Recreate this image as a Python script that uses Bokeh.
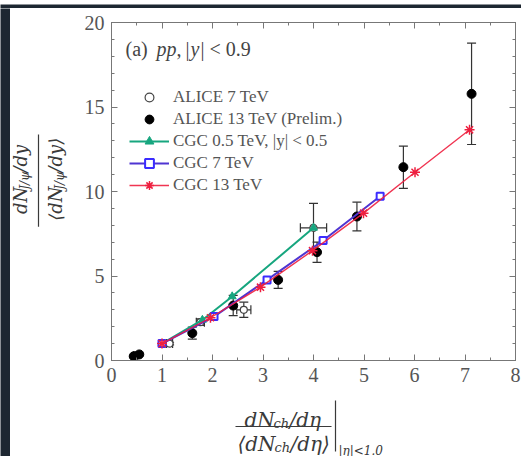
import numpy as np
from bokeh.plotting import figure
from bokeh.models import (ColumnDataSource, Whisker, TeeHead, Label, Legend, LegendItem,
                          LinearAxis, FixedTicker, Range1d)
from bokeh.core.properties import value
from bokeh.layouts import column, row
from bokeh.embed import file_html
from bokeh.resources import INLINE

# ALICE 13 TeV (preliminary): normalised multiplicity vs normalised J/psi yield
a13_x = [0.44, 0.55, 1.60, 2.41, 3.30, 4.07, 4.86, 5.78, 7.13]
a13_y = [0.25, 0.36, 1.62, 3.25, 4.77, 6.41, 8.52, 11.44, 15.78]
a13_yerr = [0.05, 0.06, 0.35, 0.60, 0.50, 0.60, 0.85, 1.25, 3.00]

# ALICE 7 TeV
a7_x = [0.48, 1.15, 1.76, 2.62, 4.00]
a7_y = [0.30, 1.00, 2.27, 3.00, 7.85]
a7_xerr = [0.04, 0.06, 0.08, 0.14, 0.26]
a7_yerr = [0.05, 0.08, 0.20, 0.45, 1.45]

# CGC calculations
cgc05_x = [1.00, 1.80, 2.39, 4.00]
cgc05_y = [1.00, 2.40, 3.79, 7.85]
cgc7_x = [1.00, 2.03, 3.08, 4.19, 5.32]
cgc7_y = [1.00, 2.60, 4.77, 7.10, 9.72]
cgc13_x = [1.00, 1.96, 2.95, 3.98, 4.99, 6.01, 7.09]
cgc13_y = [1.00, 2.53, 4.34, 6.50, 8.72, 11.14, 13.65]

x_ticks = [0, 1, 2, 3, 4, 5, 6, 7, 8]
y_ticks = [0, 5, 10, 15, 20]

GREEN = "#17a67f"
BLUE_LINE = "#4f35d2"
BLUE_MARK = "#3b2cff"
RED = "#ee1f3f"
ERR = "#333333"
AXIS = "#777777"
DARK = "#1d2731"
INK = "#3a3a3a"
TICK_FONT = "Liberation Serif"
MATH_FONT = "DejaVu Serif"

W, H = 521, 456                     # page size
TOP, SIDE = 8, 10                   # dark strips along the top and left edges
SPLIT, LABEL_X = 400, 70            # bottom of the plot row, right edge of the y-label column

# ---------------------------------------------------------------- main plot
p = figure(width=W - LABEL_X, height=SPLIT - TOP, output_backend="svg", toolbar_location=None,
           x_range=Range1d(0, 8), y_range=Range1d(0, 20),
           min_border_left=41, min_border_right=6, min_border_top=14, min_border_bottom=40,
           background_fill_color="white", border_fill_color="white")
p.outline_line_color = AXIS
p.outline_line_width = 1
p.xgrid.grid_line_color = None
p.ygrid.grid_line_color = None

x_ticker = FixedTicker(ticks=x_ticks, minor_ticks=list(np.arange(0, 8.01, 0.5)))
y_ticker = FixedTicker(ticks=y_ticks, minor_ticks=list(range(0, 21)))


def style_axis(ax, labels=True):
    ax.axis_line_color = AXIS
    ax.major_tick_line_color = AXIS
    ax.minor_tick_line_color = AXIS
    ax.major_tick_in = 6
    ax.major_tick_out = 0
    ax.minor_tick_in = 3
    ax.minor_tick_out = 0
    if labels:
        ax.major_label_text_font = TICK_FONT
        ax.major_label_text_font_size = "20px"
        ax.major_label_text_color = "#555555"
        ax.major_label_standoff = 7
    else:
        ax.major_label_text_color = None
        ax.major_label_standoff = 0


p.xaxis.ticker = x_ticker
p.yaxis.ticker = y_ticker
style_axis(p.xaxis[0])
style_axis(p.yaxis[0])
top_ax = LinearAxis(ticker=x_ticker)
right_ax = LinearAxis(ticker=y_ticker)
style_axis(top_ax, labels=False)
style_axis(right_ax, labels=False)
p.add_layout(top_ax, "above")
p.add_layout(right_ax, "right")


def add_err(xs, ys, errs, dim):
    if dim == "height":
        base, centre = xs, ys
    else:
        base, centre = ys, xs
    src = ColumnDataSource(dict(base=base, lower=[c - e for c, e in zip(centre, errs)],
                                upper=[c + e for c, e in zip(centre, errs)]))
    p.add_layout(Whisker(source=src, base="base", lower="lower", upper="upper",
                         dimension=dim, line_color=ERR, line_width=1.2,
                         upper_head=TeeHead(size=9, line_color=ERR, line_width=1.2),
                         lower_head=TeeHead(size=9, line_color=ERR, line_width=1.2)))


add_err(a7_x, a7_y, a7_yerr, "height")
add_err(a7_x, a7_y, a7_xerr, "width")
add_err(a13_x, a13_y, a13_yerr, "height")

r_a7 = p.scatter(a7_x, a7_y, marker="circle", size=7, fill_color="white",
                 line_color="#444444", line_width=1.2)
r_a13 = p.scatter(a13_x, a13_y, marker="circle", size=9, fill_color="black",
                  line_color="black")

l05 = p.line(cgc05_x, cgc05_y, line_color=GREEN, line_width=2)
m05 = p.scatter(cgc05_x, cgc05_y, marker="triangle", size=8, fill_color=GREEN,
                line_color=GREEN)
l7 = p.line(cgc7_x, cgc7_y, line_color=BLUE_LINE, line_width=2)
m7 = p.scatter(cgc7_x, cgc7_y, marker="square", size=7, fill_color="white",
               line_color=BLUE_MARK, line_width=2)
l13 = p.line(cgc13_x, cgc13_y, line_color=RED, line_width=1.4, line_alpha=0.9)
m13 = p.scatter(cgc13_x, cgc13_y, marker="asterisk", size=10, line_color=RED,
                line_width=1.5)

legend = Legend(items=[
    LegendItem(label="ALICE 7 TeV", renderers=[r_a7]),
    LegendItem(label="ALICE 13 TeV (Prelim.)", renderers=[r_a13]),
    LegendItem(label="CGC 0.5 TeV, |y| < 0.5", renderers=[l05, m05]),
    LegendItem(label="CGC 7 TeV", renderers=[l7, m7]),
    LegendItem(label="CGC 13 TeV", renderers=[l13, m13]),
], location=(18, 164))
legend.label_text_font = TICK_FONT
legend.label_text_font_size = "17px"
legend.label_text_color = "#555555"
legend.glyph_width = 40
legend.glyph_height = 22
legend.label_height = 22
legend.spacing = 0
legend.padding = 0
legend.margin = 0
legend.label_standoff = 4
legend.border_line_color = None
legend.background_fill_alpha = 0
p.add_layout(legend)

# panel title, placed in page pixels relative to the frame's bottom-left corner
FX0, FY0 = 111, 360
for txt, px, it in [("(a)", 125, False), ("pp", 156, True), (",", 176, False),
                    ("|", 185, False), ("y", 190, True), ("|", 200, False), ("< 0.9", 209, False)]:
    p.add_layout(Label(x=px - FX0, y=FY0 - 48, x_units="screen", y_units="screen",
                       text=txt, text_font=TICK_FONT, text_font_size="20px",
                       text_font_style="italic" if it else "normal", text_color="#444444",
                       text_align="left", text_baseline="alphabetic"))


# ---------------------------------------------------------------- label panels
def panel(page_left, page_right, page_top, page_bottom, fill="white"):
    # data x equals page x, data y equals H - page y
    f = figure(width=page_right - page_left, height=page_bottom - page_top,
               output_backend="svg", toolbar_location=None,
               x_range=Range1d(page_left, page_right),
               y_range=Range1d(H - page_bottom, H - page_top),
               x_axis_location=None, y_axis_location=None,
               min_border_left=0, min_border_right=0, min_border_top=0, min_border_bottom=0,
               background_fill_color=fill, border_fill_color=fill)
    f.outline_line_color = None
    f.xgrid.grid_line_color = None
    f.ygrid.grid_line_color = None
    return f


def put(f, text, px, py, size, italic=True, angle=0.0):
    f.text(x=[px], y=[H - py], text=[text], text_font=value(MATH_FONT),
           text_font_size=value(f"{size}px"),
           text_font_style="italic" if italic else "normal",
           text_color=INK, text_align="left", text_baseline="alphabetic", angle=angle)


top_strip = panel(0, W, 0, TOP, fill=DARK)
side_strip = panel(0, SIDE, TOP, H, fill=DARK)

# y-axis label, rotated: dN_J/psi/dy over <dN_J/psi/dy>
left_panel = panel(SIDE, LABEL_X, TOP, SPLIT)
ROT = np.pi / 2
put(left_panel, "dN", 20, 230, 18, angle=ROT)
put(left_panel, "J/ψ", 24, 202, 12, angle=ROT)
put(left_panel, "/dy", 20, 182, 18, angle=ROT)
left_panel.segment(x0=[38], y0=[H - 138], x1=[38], y1=[H - 245], line_color=INK, line_width=1.2)
put(left_panel, "⟨dN", 55, 238, 18, angle=ROT)
put(left_panel, "J/ψ", 59, 202, 12, angle=ROT)
put(left_panel, "/dy⟩", 55, 182, 18, angle=ROT)

# x-axis label: dN_ch/deta over <dN_ch/deta>, evaluated at |eta| < 1.0
bottom_panel = panel(SIDE, W, SPLIT, H)
put(bottom_panel, "dN", 244, 419, 20)
put(bottom_panel, "ch", 273, 423, 13)
put(bottom_panel, "/dη", 289, 419, 20)
bottom_panel.segment(x0=[235], y0=[H - 426], x1=[331], y1=[H - 426], line_color=INK, line_width=1.2)
put(bottom_panel, "⟨dN", 237, 443, 20)
put(bottom_panel, "ch", 274, 447, 13)
put(bottom_panel, "/dη⟩", 290, 443, 20)
bottom_panel.segment(x0=[335], y0=[H - 398], x1=[335], y1=[H - 451], line_color=INK, line_width=1.2)
put(bottom_panel, "|η|<1.0", 338, 450, 12)

for fig in (p, top_strip, side_strip, left_panel, bottom_panel):
    fig.margin = 0

page = column(top_strip,
              row(side_strip,
                  column(row(left_panel, p, spacing=0), bottom_panel, spacing=0),
                  spacing=0),
              spacing=0)
open("out.html", "w").write(file_html(page, INLINE))
